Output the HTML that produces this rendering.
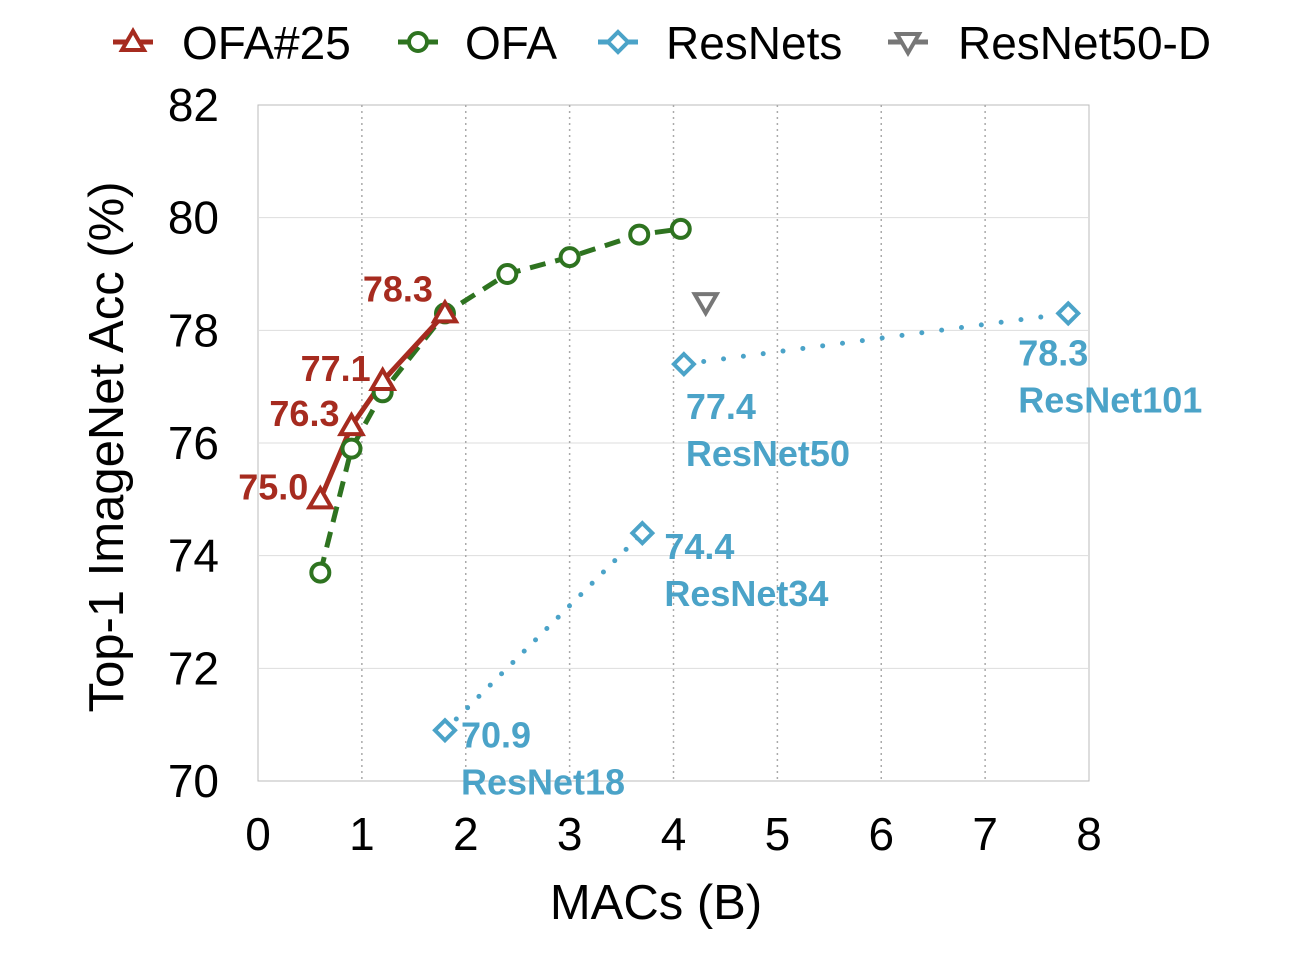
<!DOCTYPE html>
<html><head><meta charset="utf-8"><style>
body{margin:0;background:#fff}
svg text{font-family:"Liberation Sans",sans-serif}
</style></head><body>
<svg id="chart" width="1304" height="948" xmlns="http://www.w3.org/2000/svg"></svg>
<script>
const xTicks=[0,1,2,3,4,5,6,7,8];
const yTicks=[70,72,74,76,78,80,82];
const ofa25X=[0.6,0.9,1.2,1.8];
const ofa25Y=[75.0,76.3,77.1,78.3];
const ofa25Labels=["75.0","76.3","77.1","78.3"];
const ofaX=[0.6,0.9,1.2,1.8,2.4,3.0,3.67,4.07];
const ofaY=[73.7,75.9,76.9,78.3,79.0,79.3,79.7,79.8];
const resX=[1.8,3.7,4.1,7.8];
const resY=[70.9,74.4,77.4,78.3];
const resNames=["ResNet18","ResNet34","ResNet50","ResNet101"];
const resLabels=["70.9","74.4","77.4","78.3"];
const r50dX=[4.31];
const r50dY=[78.5];

const X0=258,X1=1089,Y0=781,Y1=105;
const sx=v=>X0+(v-0)/8*(X1-X0);
const sy=v=>Y0-(v-70)/12*(Y0-Y1);
const svg=document.getElementById('chart');
const NS='http://www.w3.org/2000/svg';
function el(tag,attrs,parent){const e=document.createElementNS(NS,tag);for(const k in attrs)e.setAttribute(k,attrs[k]);(parent||svg).appendChild(e);return e;}
const RED='#a62b1f',GREEN='#2e7320',BLUE='#4ba3c8',GRAY='#777';

let f=el('rect',{x:X0,y:Y1,width:X1-X0,height:Y0-Y1,fill:'#fff',stroke:'#bbb','stroke-width':1});

yTicks.forEach(t=>{
  if(t>70&&t<82){let g=el('line',{x1:X0,x2:X1,y1:sy(t),y2:sy(t),stroke:'#ddd','stroke-width':1});
  }
  let tx=el('text',{x:219,y:sy(t)+16,'font-size':46,'text-anchor':'end',fill:'#000'});tx.textContent=t;
  
});
xTicks.forEach(t=>{
  if(t>0&&t<8){let g=el('line',{x1:sx(t),x2:sx(t),y1:Y1,y2:Y0,stroke:'#aaa','stroke-width':1.5,'stroke-dasharray':'2,4'});
  }
  let tx=el('text',{x:sx(t),y:850,'font-size':46,'text-anchor':'middle',fill:'#000'});tx.textContent=t;
  
});
let xt=el('text',{x:656,y:919,'font-size':49,'text-anchor':'middle'});xt.textContent='MACs (B)';

let yt=el('text',{x:0,y:0,'font-size':49,'text-anchor':'middle',transform:'translate(123,447) rotate(-90)'});yt.textContent='Top-1 ImageNet Acc (%)';


function pts(xs,ys){return xs.map((x,i)=>sx(x)+','+sy(ys[i])).join(' ');}
let l1=el('polyline',{points:pts(ofaX,ofaY),fill:'none',stroke:GREEN,'stroke-width':5,'stroke-dasharray':'16,10'});

let l2=el('polyline',{points:pts(ofa25X,ofa25Y),fill:'none',stroke:RED,'stroke-width':5});

let l3=el('polyline',{points:pts(resX.slice(0,2),resY.slice(0,2)),fill:'none',stroke:BLUE,'stroke-width':5,'stroke-dasharray':'0,16','stroke-linecap':'round'});

let l4=el('polyline',{points:pts(resX.slice(2),resY.slice(2)),fill:'none',stroke:BLUE,'stroke-width':5,'stroke-dasharray':'0,20','stroke-linecap':'round'});


function circle(cx,cy,c){return el('circle',{cx,cy,r:9,fill:'#fff',stroke:c,'stroke-width':4});}
function tri(cx,cy,c,down){const d=down?-1:1;return el('polygon',{points:`${cx},${cy-11*d} ${cx-11},${cy+8*d} ${cx+11},${cy+8*d}`,fill:'#fff',stroke:c,'stroke-width':4});}
function diamond(cx,cy,c){return el('polygon',{points:`${cx},${cy-10} ${cx+10},${cy} ${cx},${cy+10} ${cx-10},${cy}`,fill:'#fff',stroke:c,'stroke-width':4});}

ofaX.forEach((x,i)=>{let m=circle(sx(x),sy(ofaY[i]),GREEN);});
ofa25X.forEach((x,i)=>{let m=tri(sx(x),sy(ofa25Y[i]),RED,false);
  let t=el('text',{x:sx(x)-12,y:sy(ofa25Y[i])+(i==3?-12:0),'font-size':36,'font-weight':'bold',fill:RED,'text-anchor':'end'});t.textContent=ofa25Labels[i];
  });
const offX=[16,22,2,-50];
const offY1=[17,26,55,52];
resX.forEach((x,i)=>{let m=diamond(sx(x),sy(resY[i]),BLUE);
  let t=el('text',{x:sx(x)+offX[i],y:sy(resY[i])+offY1[i],'font-size':36,'font-weight':'bold',fill:BLUE});t.textContent=resLabels[i];
  
  let n=el('text',{x:sx(x)+offX[i],y:sy(resY[i])+offY1[i]+47,'font-size':36,'font-weight':'bold',fill:BLUE});n.textContent=resNames[i];
  });
r50dX.forEach((x,i)=>{let m=tri(sx(x),sy(r50dY[i]),GRAY,true);});

const leg=[['OFA#25',RED,'tri',113,182],['OFA',GREEN,'circle',398,465],['ResNets',BLUE,'diamond',598,666],['ResNet50-D',GRAY,'down',888,958]];
leg.forEach(([name,c,type,lx,tx])=>{
  let g=el('g',{});
  el('line',{x1:lx,x2:lx+40,y1:42,y2:42,stroke:c,'stroke-width':5},g);
  const cx=lx+20;
  if(type=='tri')el('polygon',{points:`${cx},${31} ${cx-11},${50} ${cx+11},${50}`,fill:'#fff',stroke:c,'stroke-width':4},g);
  else if(type=='circle')el('circle',{cx,cy:42,r:9,fill:'#fff',stroke:c,'stroke-width':4},g);
  else if(type=='diamond')el('polygon',{points:`${cx},32 ${cx+10},42 ${cx},52 ${cx-10},42`,fill:'#fff',stroke:c,'stroke-width':4},g);
  else el('polygon',{points:`${cx},53 ${cx-11},34 ${cx+11},34`,fill:'#fff',stroke:c,'stroke-width':4},g);
  let t=el('text',{x:tx,y:59,'font-size':46},g);t.textContent=name;
});
</script>
</body></html>
